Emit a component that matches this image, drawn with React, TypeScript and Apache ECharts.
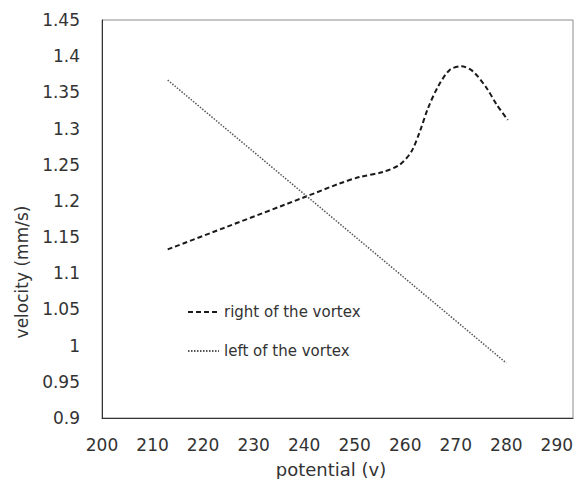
import React, { useEffect, useRef } from "react";
import * as echarts from "echarts";

const xTicks = [200, 210, 220, 230, 240, 250, 260, 270, 280, 290];
const yTicks = [0.9, 0.95, 1, 1.05, 1.1, 1.15, 1.2, 1.25, 1.3, 1.35, 1.4, 1.45];

const rightPotential = [213, 240, 247, 251, 255.6, 258.9, 261.2, 262.9, 264.5, 266.5, 268.8, 271.1, 273.4, 276.1, 278.1, 280.3];
const rightVelocity = [1.133, 1.205, 1.224, 1.233, 1.24, 1.25, 1.268, 1.296, 1.328, 1.358, 1.381, 1.386, 1.379, 1.356, 1.333, 1.312];

const leftPotential = [213, 280];
const leftVelocity = [1.367, 0.976];

const seriesNames = ["right of the vortex", "left of the vortex"];
const xTitle = "potential (v)";
const yTitle = "velocity (mm/s)";

const FONT = "DejaVu Sans";

export default function App() {
  const ref = useRef<HTMLDivElement>(null);
  useEffect(() => {
    if (!ref.current) return;
    const chart = echarts.init(ref.current, undefined, { renderer: "svg" });
    const right = rightPotential.map((x, i) => [x, rightVelocity[i]]);
    const left = leftPotential.map((x, i) => [x, leftVelocity[i]]);
    chart.setOption({
      animation: false,
      backgroundColor: "#ffffff",
      grid: {
        left: 102,
        top: 20,
        right: 4,
        bottom: 61,
        show: true,
        borderColor: "#8c8c8c",
        borderWidth: 1,
        containLabel: false,
      },
      legend: {
        orient: "vertical",
        left: 187,
        top: 304,
        padding: 0,
        itemWidth: 31,
        itemHeight: 16,
        itemGap: 23,
        data: seriesNames,
        itemStyle: { opacity: 0 },
        textStyle: { fontFamily: FONT, fontSize: 15, color: "#333", lineHeight: 16 },
      },
      xAxis: {
        type: "value",
        min: xTicks[0],
        max: 293.2,
        interval: 10,
        axisLine: { show: true, lineStyle: { color: "#333", width: 1 } },
        axisTick: { show: false },
        splitLine: { show: false },
        axisLabel: {
          showMaxLabel: false,
          margin: 18,
          fontFamily: FONT,
          fontSize: 17,
          color: "#333",
          formatter: (v: number) => (xTicks.includes(Math.round(v)) && Math.abs(v - Math.round(v)) < 1e-6 ? String(Math.round(v)) : ""),
        },
      },
      yAxis: {
        type: "value",
        min: yTicks[0],
        max: yTicks[yTicks.length - 1],
        interval: 0.05,
        axisLine: { show: true, lineStyle: { color: "#333", width: 1 } },
        axisTick: { show: false },
        splitLine: { show: false },
        axisLabel: {
          margin: 22,
          fontFamily: FONT,
          fontSize: 17,
          color: "#333",
          formatter: (v: number) => String(+v.toFixed(2)),
        },
      },
      graphic: [
        {
          type: "text",
          x: 331,
          y: 469,
          style: {
            text: xTitle,
            font: `18px "${FONT}"`,
            fill: "#333",
            align: "center",
            verticalAlign: "middle",
          },
        },
        {
          type: "text",
          x: 22,
          y: 272,
          rotation: Math.PI / 2,
          style: {
            text: yTitle,
            font: `17px "${FONT}"`,
            fill: "#333",
            align: "center",
            verticalAlign: "middle",
          },
        },
      ],
      series: [
        {
          name: seriesNames[0],
          type: "line",
          data: right,
          smooth: 0.3,
          showSymbol: false,
          symbol: "none",
          lineStyle: { color: "#1a1a1a", width: 2, type: [5, 3] },
          itemStyle: { color: "#1a1a1a" },
        },
        {
          name: seriesNames[1],
          type: "line",
          data: left,
          showSymbol: false,
          symbol: "none",
          lineStyle: { color: "#555", width: 1.5, type: [1.5, 1.5] },
          itemStyle: { color: "#555" },
        },
      ],
    });
    return () => chart.dispose();
  }, []);
  return (
    <div
      ref={ref}
      style={{ position: "fixed", left: 0, top: 0, width: 577, height: 479, background: "#fff" }}
    />
  );
}
